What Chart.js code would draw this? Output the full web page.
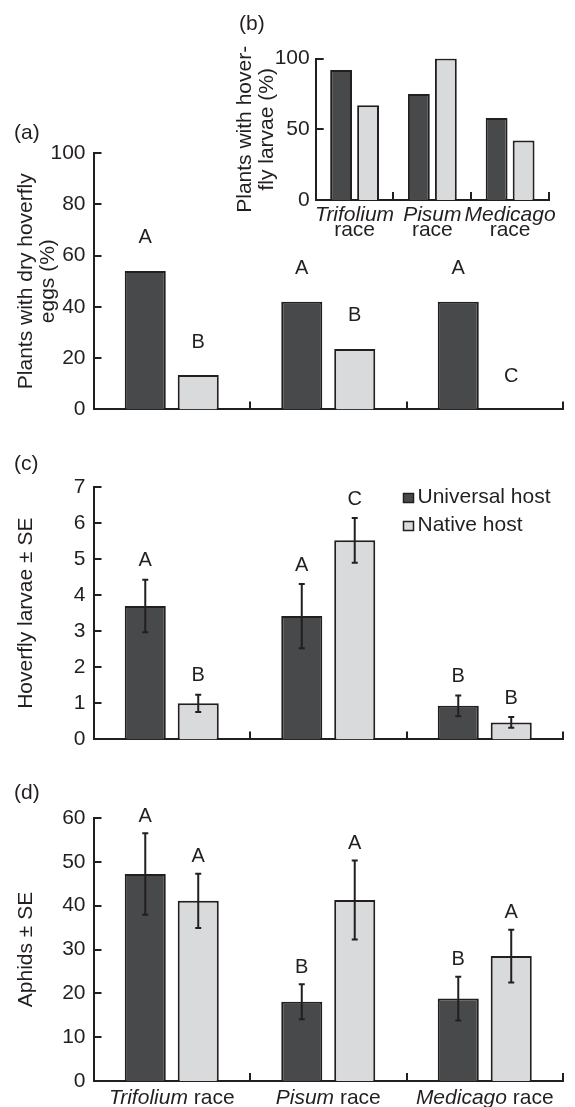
<!DOCTYPE html>
<html lang="en">
<head>
<meta charset="UTF-8" />
<title>Hoverfly eggs, larvae and aphids by race</title>
<script src="https://cdn.jsdelivr.net/npm/chart.js"></script>
<style>
  body { margin: 0; background: #fff; font-family: "Liberation Sans", Arial, sans-serif; }
  .wrap { position: relative; width: 575px; height: 1107px; }
  canvas { position: absolute; }
  .tag { position: absolute; font-size: 21px; line-height: 22px; color: #231f20; }
</style>
</head>
<body>
<div class="wrap">
  <canvas id="chartA" width="575" height="310" style="left:0;top:120px"></canvas>
  <canvas id="chartB" width="360" height="215" style="left:210px;top:40px"></canvas>
  <canvas id="chartC" width="575" height="300" style="left:0;top:460px"></canvas>
  <canvas id="chartD" width="575" height="312" style="left:0;top:795px"></canvas>
  <div class="tag" style="left:14px;top:121px">(a)</div>
  <div class="tag" style="left:239px;top:12px">(b)</div>
  <div class="tag" style="left:14px;top:452px">(c)</div>
  <div class="tag" style="left:14px;top:781px">(d)</div>
</div>

<script>
  const races = ["Trifolium", "Pisum", "Medicago"];
  const seriesNames = ["Universal host", "Native host"];

  // (a) plants with dry hoverfly eggs (%)
  const eggsUniversal = [54, 42, 42];
  const eggsNative = [13.4, 23.6, 0];
  const eggsLettersUniversal = ["A", "A", "A"];
  const eggsLettersNative = ["B", "B", "C"];

  // (b) plants with hoverfly larvae (%)
  const larvaePctUniversal = [92, 75, 58];
  const larvaePctNative = [67, 100, 42];

  // (c) hoverfly larvae ± SE
  const larvaeUniversal = [3.70, 3.42, 0.93];
  const larvaeUniversalSE = [0.73, 0.89, 0.29];
  const larvaeNative = [1.00, 5.52, 0.47];
  const larvaeNativeSE = [0.24, 0.62, 0.15];
  const larvaeLettersUniversal = ["A", "A", "B"];
  const larvaeLettersNative = ["B", "C", "B"];

  // (d) aphids ± SE
  const aphidsUniversal = [47.2, 18.1, 18.8];
  const aphidsUniversalSE = [9.3, 4.0, 5.0];
  const aphidsNative = [41.1, 41.3, 28.5];
  const aphidsNativeSE = [6.2, 9.0, 6.0];
  const aphidsLettersUniversal = ["A", "B", "B"];
  const aphidsLettersNative = ["A", "A", "A"];

  const INK = "#231f20";
  const DARK = "#48494b";
  const LIGHT = "#d9dadc";
  const FONT = '"Liberation Sans", Arial, sans-serif';

  Chart.defaults.font.family = FONT;
  Chart.defaults.font.size = 21;
  Chart.defaults.color = INK;

  // ticks, error bars, letters, race labels and legend
  const extras = {
    id: "extras",
    afterDatasetsDraw(chart, args, o) {
      const ctx = chart.ctx;
      const area = chart.chartArea;
      const y = chart.scales.y;
      const x = chart.scales.x;
      ctx.save();
      ctx.strokeStyle = INK;
      ctx.lineWidth = 2;

      // inward tick marks on the value axis
      y.ticks.forEach(t => {
        const py = Math.round(y.getPixelForValue(t.value));
        ctx.beginPath();
        ctx.moveTo(area.left, py);
        ctx.lineTo(area.left + 8, py);
        ctx.stroke();
      });

      // tick marks between the races
      const n = chart.data.labels.length;
      for (let i = 1; i <= n; i++) {
        const px = Math.round(area.left + i * (area.right - area.left) / n);
        ctx.beginPath();
        ctx.moveTo(px, area.bottom);
        ctx.lineTo(px, area.bottom - 8);
        ctx.stroke();
      }

      chart.data.datasets.forEach((ds, d) => {
        const meta = chart.getDatasetMeta(d);
        meta.data.forEach((bar, i) => {
          const v = ds.data[i];
          const se = o.errors ? o.errors[d][i] : 0;
          if (o.errors) {
            const top = y.getPixelForValue(v + se);
            const bot = y.getPixelForValue(v - se);
            ctx.beginPath();
            ctx.moveTo(bar.x, top); ctx.lineTo(bar.x, bot);
            ctx.moveTo(bar.x - 3, top); ctx.lineTo(bar.x + 3, top);
            ctx.moveTo(bar.x - 3, bot); ctx.lineTo(bar.x + 3, bot);
            ctx.stroke();
          }
          if (o.letters) {
            ctx.fillStyle = INK;
            ctx.font = "20px " + FONT;
            ctx.textAlign = "center";
            ctx.textBaseline = "middle";
            ctx.fillText(o.letters[d][i], bar.x, y.getPixelForValue(v + se) - o.letterGap);
          }
        });
      });

      if (o.raceLabels) {
        ctx.fillStyle = INK;
        ctx.textBaseline = "middle";
        chart.data.labels.forEach((name, i) => {
          const cx = x.getPixelForValue(i);
          if (o.raceLabels === "stack") {
            ctx.textAlign = "center";
            ctx.font = "italic 21px " + FONT;
            ctx.fillText(name, cx, area.bottom + 15);
            ctx.font = "21px " + FONT;
            ctx.fillText("race", cx, area.bottom + 30);
          } else {
            ctx.textAlign = "left";
            ctx.font = "italic 21px " + FONT;
            const w1 = ctx.measureText(name).width;
            ctx.font = "21px " + FONT;
            const w2 = ctx.measureText(" race").width;
            const x0 = cx - (w1 + w2) / 2;
            ctx.font = "italic 21px " + FONT;
            ctx.fillText(name, x0, area.bottom + 17);
            ctx.font = "21px " + FONT;
            ctx.fillText(" race", x0 + w1, area.bottom + 17);
          }
        });
      }

      if (o.legend) {
        ctx.font = "21px " + FONT;
        ctx.textAlign = "left";
        ctx.textBaseline = "alphabetic";
        chart.data.datasets.forEach((ds, d) => {
          const base = area.top + 15.5 + d * 28;
          const lx = area.left + 310;
          ctx.fillStyle = ds.backgroundColor;
          ctx.fillRect(lx, base - 9, 10, 9);
          ctx.lineWidth = 1.5;
          ctx.strokeRect(lx, base - 9, 10, 9);
          ctx.fillStyle = INK;
          ctx.fillText(ds.label, lx + 14, base);
        });
      }
      ctx.restore();
    }
  };

  function makeChart(id, cfg) {
    const fixW = cfg.yWidth, fixH = cfg.xHeight;
    return new Chart(document.getElementById(id), {
      type: "bar",
      data: {
        labels: races,
        datasets: [
          { label: seriesNames[0], data: cfg.series[0], backgroundColor: DARK,
            borderColor: INK, borderWidth: 2,
            categoryPercentage: cfg.catPct, barPercentage: cfg.barPct },
          { label: seriesNames[1], data: cfg.series[1], backgroundColor: LIGHT,
            borderColor: INK, borderWidth: 2,
            categoryPercentage: cfg.catPct, barPercentage: cfg.barPct }
        ]
      },
      options: {
        responsive: false,
        animation: false,
        devicePixelRatio: 1,
        layout: { padding: { left: 0, top: cfg.padTop, right: cfg.padRight, bottom: 0 } },
        plugins: {
          legend: { display: false },
          tooltip: { enabled: false },
          extras: cfg.extras
        },
        scales: {
          x: {
            grid: { display: false, drawTicks: false },
            border: { display: true, color: INK, width: 2 },
            ticks: { display: false },
            afterFit: s => { s.height = fixH; }
          },
          y: {
            min: 0,
            max: cfg.max,
            grid: { display: false, drawTicks: false },
            border: { display: true, color: INK, width: 2 },
            ticks: {
              stepSize: cfg.step,
              padding: cfg.tickPad,
              font: { size: 21 },
              color: INK,
              callback: v => (v % cfg.labelEvery === 0 ? v : "")
            },
            title: {
              display: true,
              text: cfg.title,
              font: { size: 21, lineHeight: 1.05 },
              color: INK,
              padding: { top: cfg.titlePad, bottom: 0 }
            },
            afterFit: s => { s.width = fixW; }
          }
        }
      },
      plugins: [extras]
    });
  }

  makeChart("chartA", {
    series: [eggsUniversal, eggsNative],
    max: 100, step: 10, labelEvery: 20,
    title: ["Plants with dry hoverfly", "eggs (%)"],
    yWidth: 93.5, xHeight: 16, padTop: 33, padRight: 12, titlePad: 15.5, tickPad: 8,
    catPct: 0.677, barPct: 0.775,
    extras: { letters: [eggsLettersUniversal, eggsLettersNative], letterGap: 33 }
  });

  makeChart("chartB", {
    series: [larvaePctUniversal, larvaePctNative],
    max: 100, step: 50, labelEvery: 50,
    title: ["Plants with hover-", "fly larvae (%)"],
    yWidth: 105.7, xHeight: 55, padTop: 15, padRight: 21, titlePad: 24.5, tickPad: 6,
    catPct: 0.694, barPct: 0.81,
    extras: { raceLabels: "stack" }
  });

  makeChart("chartC", {
    series: [larvaeUniversal, larvaeNative],
    max: 7, step: 1, labelEvery: 1,
    title: "Hoverfly larvae \u00b1 SE",
    yWidth: 93.5, xHeight: 11, padTop: 27, padRight: 12, titlePad: 15.5, tickPad: 8,
    catPct: 0.677, barPct: 0.775,
    extras: {
      errors: [larvaeUniversalSE, larvaeNativeSE],
      letters: [larvaeLettersUniversal, larvaeLettersNative], letterGap: 19,
      legend: true
    }
  });

  makeChart("chartD", {
    series: [aphidsUniversal, aphidsNative],
    max: 60, step: 10, labelEvery: 10,
    title: "Aphids \u00b1 SE",
    yWidth: 93.5, xHeight: 26, padTop: 23, padRight: 12, titlePad: 15.5, tickPad: 8,
    catPct: 0.677, barPct: 0.775,
    extras: {
      errors: [aphidsUniversalSE, aphidsNativeSE],
      letters: [aphidsLettersUniversal, aphidsLettersNative], letterGap: 17,
      raceLabels: "row"
    }
  });
</script>
</body>
</html>
